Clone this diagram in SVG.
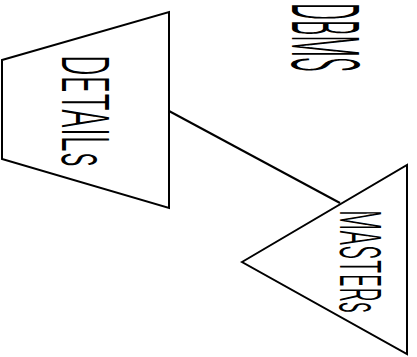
<svg xmlns="http://www.w3.org/2000/svg" width="417" height="357" viewBox="0 0 417 357">
<style>
.shape{fill:none;stroke:#000;stroke-width:2;stroke-linejoin:miter}
.conn{fill:none;stroke:#000;stroke-width:2}
.lbl{font-family:Inter,"Liberation Sans",sans-serif;font-weight:300;fill:#000}
</style>
<rect width="417" height="357" fill="#fff"/>
<g id="dbms">
<text class="lbl" transform="translate(292,3) rotate(90) scale(0.5,1)" x="0" y="0" font-size="92" textLength="138" lengthAdjust="spacingAndGlyphs">DBMS</text>
</g>
<g id="connectors">
<line class="conn" x1="169" y1="111" x2="340" y2="203"/>
</g>
<g id="details">
<polygon class="shape" points="2,60 169,12 169,208 2,159"/>
<text class="lbl" transform="translate(62,55) rotate(90) scale(0.5,1)" x="0" y="0" font-size="64" textLength="224" lengthAdjust="spacingAndGlyphs">DETAILs</text>
</g>
<g id="masters">
<polygon class="shape" points="242,262 407,165 407,354"/>
<text class="lbl" transform="translate(340,210) rotate(90) scale(0.5,1)" x="0" y="0" font-size="56" textLength="206" lengthAdjust="spacingAndGlyphs">MASTERs</text>
</g>
</svg>
